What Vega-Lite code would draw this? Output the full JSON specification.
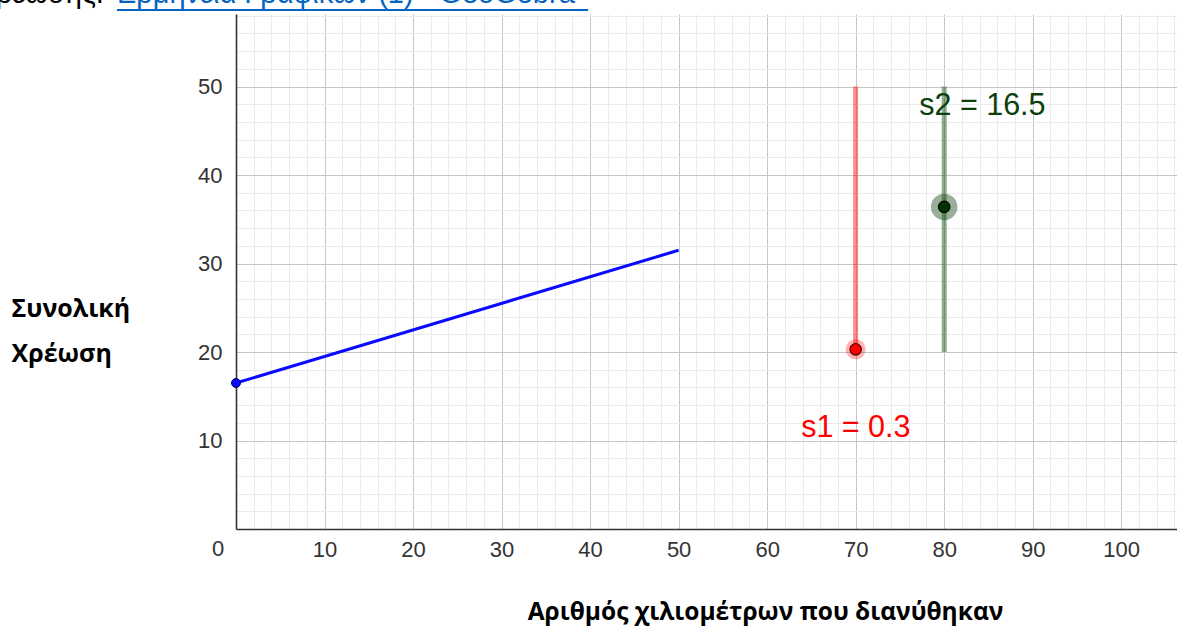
{
  "$schema": "https://vega.github.io/schema/vega-lite/v6.json",
  "autosize": {"type": "none"},
  "width": 941,
  "height": 515,
  "padding": {"left": 236, "top": 14, "right": 0, "bottom": 99},
  "background": "white",
  "config": {"view": {"stroke": null}},
  "resolve": {"axis": {"x": "independent", "y": "independent"}},
  "layer": [
    {
      "data": {"values": [{"km": 0, "cost": 16.5}, {"km": 50, "cost": 31.5}]},
      "mark": {"type": "line", "color": "#0a0aff", "strokeWidth": 3},
      "encoding": {
        "x": {"field": "km", "type": "quantitative",
          "scale": {"domain": [0, 106.3], "nice": false, "zero": false},
          "axis": {"orient": "bottom", "values": [2,4,6,8,12,14,16,18,22,24,26,28,32,34,36,38,42,44,46,48,52,54,56,58,62,64,66,68,72,74,76,78,82,84,86,88,92,94,96,98,102,104,106],
            "grid": true, "gridColor": "#ebebeb", "gridWidth": 1, "labels": false, "ticks": false, "domain": false, "title": null}},
        "y": {"field": "cost", "type": "quantitative",
          "scale": {"domain": [0, 58.2], "nice": false, "zero": false},
          "axis": {"orient": "left", "values": [2,4,6,8,12,14,16,18,22,24,26,28,32,34,36,38,42,44,46,48,52,54,56,58],
            "grid": true, "gridColor": "#ebebeb", "gridWidth": 1, "labels": false, "ticks": false, "domain": false, "title": null}}
      }
    },
    {
      "data": {"values": [{"km": 0, "cost": 16.5}]},
      "mark": {"type": "point", "filled": true, "color": "#0a0aff", "size": 80, "stroke": "#00005a", "strokeWidth": 1, "opacity": 1},
      "encoding": {
        "x": {"field": "km", "type": "quantitative",
          "axis": {"orient": "bottom", "values": [10,20,30,40,50,60,70,80,90,100],
            "grid": true, "gridColor": "#c6c6c6", "gridWidth": 1, "ticks": false,
            "domain": true, "domainColor": "#333333", "domainWidth": 1.6,
            "labelFont": "Liberation Sans", "labelFontSize": 22, "labelColor": "#333333", "labelPadding": 10,
            "title": "Αριθμός χιλιομέτρων που διανύθηκαν",
            "titleFont": "Open Sans", "titleFontWeight": "bold", "titleFontSize": 24.5, "titleColor": "#000000",
            "titleX": 529, "titleY": 90, "titleAlign": "center", "titleBaseline": "alphabetic"}},
        "y": {"field": "cost", "type": "quantitative",
          "axis": {"orient": "left", "values": [10,20,30,40,50],
            "grid": true, "gridColor": "#c6c6c6", "gridWidth": 1, "ticks": false,
            "domain": true, "domainColor": "#333333", "domainWidth": 1.6,
            "labelFont": "Liberation Sans", "labelFontSize": 22, "labelColor": "#333333", "labelPadding": 14,
            "title": ["Συνολική", "Χρέωση"],
            "titleFont": "Open Sans", "titleFontWeight": "bold", "titleFontSize": 25, "titleColor": "#000000",
            "titleAngle": 0, "titleX": -225, "titleY": 302, "titleAlign": "left", "titleBaseline": "alphabetic", "titleLineHeight": 45}}
      }
    },
    {
      "data": {"values": [{"km": 0, "cost": 0, "label": "0"}]},
      "mark": {"type": "text", "font": "Liberation Sans", "fontSize": 22, "color": "#333333", "align": "center", "baseline": "middle", "dx": -18, "dy": 20},
      "encoding": {
        "x": {"field": "km", "type": "quantitative", "axis": null},
        "y": {"field": "cost", "type": "quantitative", "axis": null},
        "text": {"field": "label"}
      }
    },
    {
      "data": {"values": [{"x": 70, "y1": 20, "y2": 50}]},
      "mark": {"type": "rule", "color": "#ff0000", "opacity": 0.45, "strokeWidth": 5},
      "encoding": {
        "x": {"field": "x", "type": "quantitative", "axis": null},
        "y": {"field": "y1", "type": "quantitative", "axis": null},
        "y2": {"field": "y2"}
      }
    },
    {
      "data": {"values": [{"x": 80, "y1": 20, "y2": 50}]},
      "mark": {"type": "rule", "color": "#1e5a1e", "opacity": 0.5, "strokeWidth": 5},
      "encoding": {
        "x": {"field": "x", "type": "quantitative", "axis": null},
        "y": {"field": "y1", "type": "quantitative", "axis": null},
        "y2": {"field": "y2"}
      }
    },
    {
      "data": {"values": [{"x": 70, "y": 20.3}]},
      "mark": {"type": "point", "filled": true, "color": "#ff0000", "opacity": 0.3, "size": 400, "strokeWidth": 0},
      "encoding": {
        "x": {"field": "x", "type": "quantitative", "axis": null},
        "y": {"field": "y", "type": "quantitative", "axis": null}
      }
    },
    {
      "data": {"values": [{"x": 70, "y": 20.3}]},
      "mark": {"type": "point", "filled": true, "color": "#ff0000", "opacity": 1, "size": 130, "stroke": "#4a0000", "strokeWidth": 1.2},
      "encoding": {
        "x": {"field": "x", "type": "quantitative", "axis": null},
        "y": {"field": "y", "type": "quantitative", "axis": null}
      }
    },
    {
      "data": {"values": [{"x": 80, "y": 36.4}]},
      "mark": {"type": "point", "filled": true, "color": "#1e4d1e", "opacity": 0.45, "size": 700, "strokeWidth": 0},
      "encoding": {
        "x": {"field": "x", "type": "quantitative", "axis": null},
        "y": {"field": "y", "type": "quantitative", "axis": null}
      }
    },
    {
      "data": {"values": [{"x": 80, "y": 36.4}]},
      "mark": {"type": "point", "filled": true, "color": "#003300", "opacity": 1, "size": 130, "stroke": "#000000", "strokeWidth": 1.2},
      "encoding": {
        "x": {"field": "x", "type": "quantitative", "axis": null},
        "y": {"field": "y", "type": "quantitative", "axis": null}
      }
    },
    {
      "data": {"values": [{"x": 63.84, "y": 10.43, "label": "s1 = 0.3"}]},
      "mark": {"type": "text", "font": "Liberation Sans", "fontSize": 30.5, "color": "#ff0000", "align": "left", "baseline": "alphabetic"},
      "encoding": {
        "x": {"field": "x", "type": "quantitative", "axis": null},
        "y": {"field": "y", "type": "quantitative", "axis": null},
        "text": {"field": "label"}
      }
    },
    {
      "data": {"values": [{"x": 77.18, "y": 46.78, "label": "s2 = 16.5"}]},
      "mark": {"type": "text", "font": "Liberation Sans", "fontSize": 30.5, "color": "#0d3f0d", "align": "left", "baseline": "alphabetic"},
      "encoding": {
        "x": {"field": "x", "type": "quantitative", "axis": null},
        "y": {"field": "y", "type": "quantitative", "axis": null},
        "text": {"field": "label"}
      }
    },
    {
      "data": {"values": [{"x": -14.92, "y": 59.44, "label": "ρέωσης:"}]},
      "mark": {"type": "text", "font": "Liberation Sans", "fontSize": 29, "color": "#000000", "align": "right", "baseline": "alphabetic"},
      "encoding": {
        "x": {"field": "x", "type": "quantitative", "axis": null},
        "y": {"field": "y", "type": "quantitative", "axis": null},
        "text": {"field": "label"}
      }
    },
    {
      "data": {"values": [{"x": -13.45, "y": 59.44, "label": "Ερμηνεία Γραφικών (1) - GeoGebra"}]},
      "mark": {"type": "text", "font": "Liberation Sans", "fontSize": 29, "color": "#0563c1", "align": "left", "baseline": "alphabetic"},
      "encoding": {
        "x": {"field": "x", "type": "quantitative", "axis": null},
        "y": {"field": "y", "type": "quantitative", "axis": null},
        "text": {"field": "label"}
      }
    },
    {
      "data": {"values": [{"x1": -13.45, "x2": 39.77, "y": 58.64}]},
      "mark": {"type": "rule", "color": "#0563c1", "strokeWidth": 2},
      "encoding": {
        "x": {"field": "x1", "type": "quantitative", "axis": null},
        "x2": {"field": "x2"},
        "y": {"field": "y", "type": "quantitative", "axis": null}
      }
    }
  ]
}
